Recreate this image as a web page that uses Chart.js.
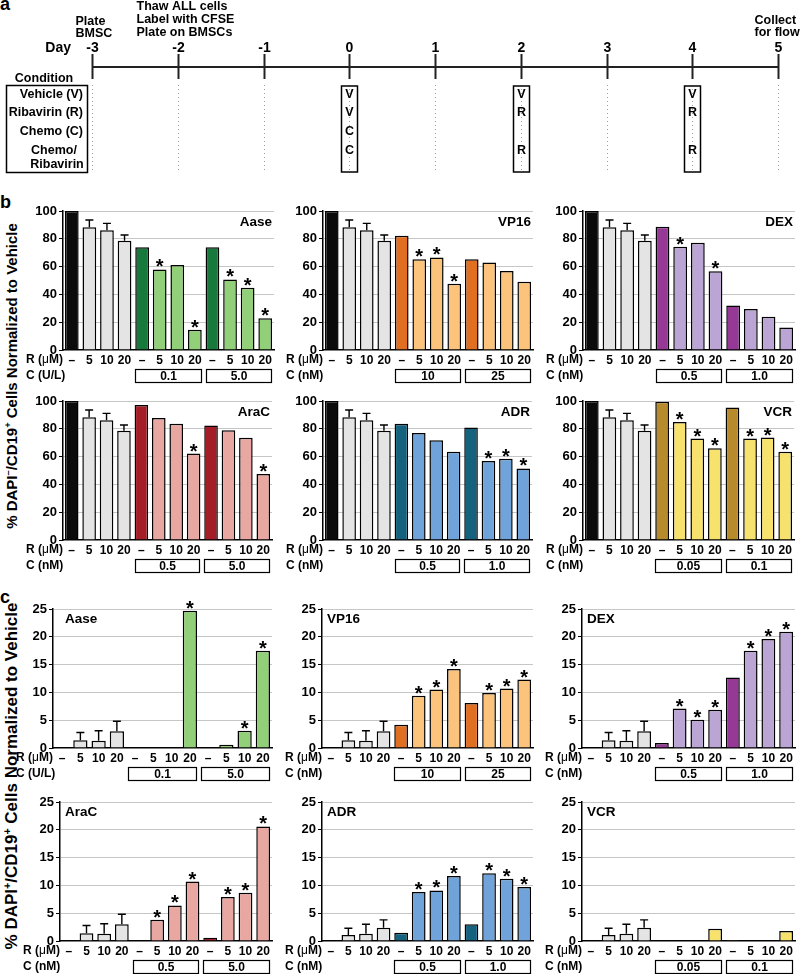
<!DOCTYPE html>
<html>
<head>
<meta charset="utf-8">
<script src="https://cdn.jsdelivr.net/npm/chart.js@4.4.0/dist/chart.umd.min.js"></script>
<style>
  body { margin: 0; width: 800px; height: 974px; position: relative; overflow: hidden; background: #fff;
         font-family: "Liberation Sans", Arial, sans-serif; font-weight: bold; color: #000; }
  canvas { position: absolute; }
  .panel { position: absolute; font-size: 18px; line-height: 18px; }
  .ytitle { position: absolute; white-space: nowrap; line-height: 1; transform: translate(-50%, -50%) rotate(-90deg); }
  .ytitle sup { font-size: 0.62em; line-height: 0; vertical-align: 0.55em; }
</style>
</head>
<body>
<div class="panel" style="left:0px;top:-5px">a</div>
<div class="panel" style="left:0px;top:193px">b</div>
<div class="panel" style="left:0px;top:588px">c</div>
<div class="ytitle" style="left:11px;top:376px;font-size:15px">% DAPI<sup>–</sup>/CD19<sup>+</sup> Cells Normalized to Vehicle</div>
<div class="ytitle" style="left:11px;top:776px;font-size:17px">% DAPI<sup>+</sup>/CD19<sup>+</sup> Cells Normalized to Vehicle</div>

<canvas id="tl"></canvas>
<canvas id="bAase"></canvas><canvas id="bVP16"></canvas><canvas id="bDEX"></canvas>
<canvas id="bAraC"></canvas><canvas id="bADR"></canvas><canvas id="bVCR"></canvas>
<canvas id="cAase"></canvas><canvas id="cVP16"></canvas><canvas id="cDEX"></canvas>
<canvas id="cAraC"></canvas><canvas id="cADR"></canvas><canvas id="cVCR"></canvas>

<script>
// ---- panel a: schedule ----
const days = [-3, -2, -1, 0, 1, 2, 3, 4, 5];
const conditionNames = ["Vehicle (V)", "Ribavirin (R)", "Chemo (C)"];
const treatDays = [0, 2, 4];
const treatDay0 = ["V", "V", "C", "C"];
const treatDay2 = ["V", "R", "", "R"];
const treatDay4 = ["V", "R", "", "R"];

// ---- bar categories (ribavirin dose under each bar) ----
const rDoses = ["–", "5", "10", "20", "–", "5", "10", "20", "–", "5", "10", "20"];

// ---- panel b: % DAPI-/CD19+ (viable) ----
const aaseLive = [100, 88.3, 86.1, 78.6, 73.9, 58.0, 61.1, 14.6, 73.9, 50.8, 44.8, 22.8];
const vp16Live = [100, 88.3, 86.1, 78.6, 82.2, 65.2, 66.6, 47.7, 65.2, 63.0, 56.8, 49.1];
const dexLive  = [100, 88.3, 86.1, 78.6, 88.7, 74.3, 77.2, 56.6, 32.1, 29.5, 24.0, 16.1];
const aracLive = [100, 88.3, 86.1, 78.6, 97.1, 87.8, 83.7, 62.2, 82.3, 79.0, 73.5, 47.4];
const adrLive  = [100, 88.3, 86.1, 78.6, 83.7, 77.0, 71.8, 63.4, 80.9, 56.9, 58.4, 51.5];
const vcrLive  = [100, 88.3, 86.1, 78.6, 99.5, 84.9, 73.0, 66.0, 95.3, 73.0, 73.7, 63.4];
const ribaErrLive = [93.5, 91.1, 82.7];   // top of error bar, R-only bars

// ---- panel c: % DAPI+/CD19+ (dead) ----
const aaseDead = [0, 1.4, 1.3, 3.0, 0, 0, 0.1, 24.7, 0, 0.6, 3.1, 17.5];
const vp16Dead = [0, 1.4, 1.3, 3.0, 4.2, 9.4, 10.5, 14.2, 8.1, 9.9, 10.7, 12.3];
const dexDead  = [0, 1.4, 1.3, 3.0, 0.9, 7.1, 5.1, 6.9, 12.7, 17.5, 19.6, 20.9];
const aracDead = [0, 1.4, 1.3, 3.0, 0, 3.8, 6.4, 10.7, 0.6, 7.9, 8.7, 20.6];
const adrDead  = [0, 1.1, 1.3, 2.4, 1.5, 8.8, 9.1, 11.7, 3.0, 12.2, 11.2, 9.7];
const vcrDead  = [0, 1.1, 1.3, 2.4, 0, 0, 0, 2.2, 0.2, 0, 0, 1.8];
const ribaErrDead  = [2.8, 3.1, 4.8];
const ribaErrDead2 = [2.3, 3.0, 3.8];

// significance marks (bar index)
const aaseLiveStars = [5, 7, 9, 10, 11];
const vp16LiveStars = [5, 6, 7];
const dexLiveStars  = [5, 7];
const aracLiveStars = [7, 11];
const adrLiveStars  = [9, 10, 11];
const vcrLiveStars  = [5, 6, 7, 9, 10, 11];
const aaseDeadStars = [7, 10, 11];
const allComboStars = [5, 6, 7, 9, 10, 11];
const vcrDeadStars  = [];

// chemo doses
const aaseDoses = ["0.1", "5.0"];
const vp16Doses = ["10", "25"];
const dexDoses  = ["0.5", "1.0"];
const aracDoses = ["0.5", "5.0"];
const adrDoses  = ["0.5", "1.0"];
const vcrDoses  = ["0.05", "0.1"];

const FONT = '"Liberation Sans", Arial, sans-serif';
Chart.defaults.font.family = FONT;
Chart.defaults.font.weight = 'bold';
Chart.defaults.color = '#000';

const drugColors = {
  Aase: ['#177a3c', '#92cf79'],
  VP16: ['#e06f22', '#fcc37c'],
  DEX:  ['#963896', '#baa5d4'],
  AraC: ['#a51d26', '#e9a7a2'],
  ADR:  ['#15627f', '#6fa3d9'],
  VCR:  ['#b78b2b', '#f8e26e']
};

function barColors(drug) {
  const [dark, light] = drugColors[drug];
  return ['#0b0b0b', '#e4e4e4', '#e4e4e4', '#e4e4e4', dark, light, light, light, dark, light, light, light];
}

// Timeline (panel a)
const timeline = {
  id: 'timeline',
  afterDraw(chart) {
    const ctx = chart.ctx, x = chart.scales.x;
    const px = d => Math.round(x.getPixelForValue(d)) + 0.5;
    const rowY = [95, 113, 132, 151];
    ctx.save();
    // dotted guides
    ctx.strokeStyle = '#a0a0a0'; ctx.lineWidth = 1; ctx.setLineDash([1, 3]);
    days.forEach(d => { ctx.beginPath(); ctx.moveTo(px(d), 85); ctx.lineTo(px(d), 172); ctx.stroke(); });
    ctx.setLineDash([]);
    // main line + ticks
    ctx.strokeStyle = '#222'; ctx.lineWidth = 2;
    ctx.beginPath(); ctx.moveTo(px(days[0]), 67); ctx.lineTo(px(days[days.length - 1]), 67); ctx.stroke();
    days.forEach(d => { ctx.beginPath(); ctx.moveTo(px(d), 54); ctx.lineTo(px(d), 79); ctx.stroke(); });
    ctx.fillStyle = '#000';
    ctx.font = 'bold 14px ' + FONT; ctx.textBaseline = 'middle';
    ctx.textAlign = 'center';
    days.forEach(d => ctx.fillText(String(d), px(d), 48));
    ctx.textAlign = 'right'; ctx.fillText('Day', 71, 48);
    // notes
    ctx.font = 'bold 12.5px ' + FONT; ctx.textAlign = 'left';
    ctx.fillText('Plate', px(-3) - 17, 22); ctx.fillText('BMSC', px(-3) - 17, 34);
    ctx.fillText('Thaw ALL cells', px(-2) - 42, 7);
    ctx.fillText('Label with CFSE', px(-2) - 42, 20);
    ctx.fillText('Plate on BMSCs', px(-2) - 42, 33);
    ctx.fillText('Collect', px(5) - 24, 21); ctx.fillText('for flow', px(5) - 24, 33);
    // condition key
    ctx.textAlign = 'center'; ctx.fillText('Condition', 44, 79);
    ctx.lineWidth = 1.5; ctx.strokeStyle = '#000';
    ctx.strokeRect(6.5, 85.5, 81, 87);
    ctx.textAlign = 'right';
    conditionNames.forEach((n, i) => ctx.fillText(n, 83, rowY[i]));
    ctx.textAlign = 'center';
    ctx.fillText('Chemo/', 54, 151); ctx.fillText('Ribavirin', 57, 165);
    // treatment boxes
    [treatDay0, treatDay2, treatDay4].forEach((col, k) => {
      const cx = px(treatDays[k]);
      ctx.strokeRect(cx - 8, 86, 16, 86);
      col.forEach((t, i) => { if (t) ctx.fillText(t, cx, rowY[i]); });
    });
    ctx.restore();
  }
};

const tlCanvas = document.getElementById('tl');
tlCanvas.width = 800; tlCanvas.height = 185;
tlCanvas.style.left = '0px'; tlCanvas.style.top = '0px';
new Chart(tlCanvas, {
  type: 'scatter',
  data: { datasets: [{ data: days.map(d => ({ x: d, y: 0 })), pointRadius: 0 }] },
  options: {
    responsive: false, animation: false,
    layout: { padding: { left: 92, right: 22, top: 0, bottom: 0 } },
    scales: { x: { type: 'linear', min: -3, max: 5, display: false }, y: { min: -1, max: 1, display: false } },
    plugins: { legend: { display: false }, tooltip: { enabled: false } }
  },
  plugins: [timeline]
});

// Extras on each bar chart: whiskers, stars, title, dose rows
const barExtras = {
  id: 'barExtras',
  afterDatasetsDraw(chart, args, o) {
    const ctx = chart.ctx, a = chart.chartArea, ys = chart.scales.y;
    const bars = chart.getDatasetMeta(0).data;
    ctx.save();
    ctx.strokeStyle = '#000'; ctx.fillStyle = '#000'; ctx.lineWidth = 1.4;
    o.err.forEach((v, i) => {
      const b = bars[i + 1], yt = ys.getPixelForValue(v);
      ctx.beginPath();
      ctx.moveTo(b.x, b.y); ctx.lineTo(b.x, yt);
      ctx.moveTo(b.x - 4, yt); ctx.lineTo(b.x + 4, yt);
      ctx.stroke();
    });
    ctx.font = 'bold 20px ' + FONT; ctx.textAlign = 'center'; ctx.textBaseline = 'alphabetic';
    o.stars.forEach(i => ctx.fillText('*', bars[i].x, bars[i].y + 4));

    ctx.font = 'bold 13.5px ' + FONT; ctx.textBaseline = 'middle';
    if (o.titleSide === 'right') { ctx.textAlign = 'right'; ctx.fillText(o.title, a.right - 2, a.top + 11); }
    else { ctx.textAlign = 'left'; ctx.fillText(o.title, a.left + o.titleDx, a.top + 10); }

    // row labels
    const lx = a.left - 37;
    ctx.textAlign = 'left';
    let cx = lx;
    const seg = (t, w) => { ctx.font = w + ' 12px ' + FONT; ctx.fillText(t, cx, a.bottom + 10); cx += ctx.measureText(t).width; };
    seg('R (', 'bold'); seg('\u03bc', 'normal'); seg('M)', 'bold');
    ctx.font = 'bold 12px ' + FONT;
    ctx.fillText('C (' + o.unit + ')', lx, a.bottom + 26);

    // dose boxes
    o.doses.forEach((d, g) => {
      const f = bars[4 + 4 * g], l = bars[7 + 4 * g];
      const x1 = Math.round(f.x - f.width / 2) + 0.5, x2 = Math.round(l.x + l.width / 2) - 0.5;
      ctx.lineWidth = 1.2;
      ctx.strokeRect(x1, Math.round(a.bottom) + 19.5, x2 - x1, 13);
      ctx.textAlign = 'center';
      ctx.fillText(d, (x1 + x2) / 2, a.bottom + 26.5);
    });
    ctx.restore();
  }
};

function drawBars(id, box, values, o) {
  const cv = document.getElementById(id);
  const padTop = 14, leftW = 42, bottomH = 36;
  cv.width = leftW + (box.right - box.axisX) + 2;
  cv.height = padTop + (box.bottom - box.top) + bottomH;
  cv.style.left = (box.axisX - leftW) + 'px';
  cv.style.top = (box.top - padTop) + 'px';
  new Chart(cv, {
    type: 'bar',
    data: {
      labels: rDoses,
      datasets: [{
        data: values,
        backgroundColor: barColors(o.drug),
        borderColor: '#000', borderWidth: 1.5,
        barPercentage: 0.78, categoryPercentage: 1
      }]
    },
    options: {
      responsive: false, animation: false,
      layout: { padding: { top: padTop, right: 2, left: 0, bottom: 0 } },
      plugins: { legend: { display: false }, tooltip: { enabled: false }, barExtras: o },
      scales: {
        x: {
          offset: true,
          grid: { display: false, drawTicks: false },
          border: { color: '#000', width: 1.5 },
          ticks: { padding: 3, autoSkip: false, maxRotation: 0, font: { size: 12, weight: 'bold' }, color: '#000' },
          afterFit: s => { s.height = bottomH; }
        },
        y: {
          min: 0, max: o.max,
          ticks: { stepSize: o.step, padding: 2, font: { size: 13, weight: 'bold' }, color: '#000' },
          grid: {
            color: c => (c.tick && c.tick.value === 0) ? 'rgba(0,0,0,0)' : '#c6c6c6',
            tickColor: '#000', tickLength: 4, lineWidth: 1
          },
          border: { color: '#000', width: 1.5 },
          afterFit: s => { s.width = leftW; }
        }
      }
    },
    plugins: [barExtras]
  });
}

const live = { max: 100, step: 20, err: ribaErrLive, titleSide: 'right' };
drawBars('bAase', { axisX: 63, right: 274, top: 211, bottom: 350 }, aaseLive, { ...live, drug: 'Aase', title: 'Aase', stars: aaseLiveStars, doses: aaseDoses, unit: 'U/L' });
drawBars('bVP16', { axisX: 323, right: 533, top: 211, bottom: 350 }, vp16Live, { ...live, drug: 'VP16', title: 'VP16', stars: vp16LiveStars, doses: vp16Doses, unit: 'nM' });
drawBars('bDEX', { axisX: 583, right: 795, top: 211, bottom: 350 }, dexLive, { ...live, drug: 'DEX', title: 'DEX', stars: dexLiveStars, doses: dexDoses, unit: 'nM' });
drawBars('bAraC', { axisX: 63, right: 272, top: 401, bottom: 540 }, aracLive, { ...live, drug: 'AraC', title: 'AraC', stars: aracLiveStars, doses: aracDoses, unit: 'nM' });
drawBars('bADR', { axisX: 323, right: 532, top: 401, bottom: 540 }, adrLive, { ...live, drug: 'ADR', title: 'ADR', stars: adrLiveStars, doses: adrDoses, unit: 'nM' });
drawBars('bVCR', { axisX: 583, right: 794, top: 401, bottom: 540 }, vcrLive, { ...live, drug: 'VCR', title: 'VCR', stars: vcrLiveStars, doses: vcrDoses, unit: 'nM' });

const dead = { max: 25, step: 5, titleSide: 'left', titleDx: 5 };
drawBars('cAase', { axisX: 53, right: 272, top: 609, bottom: 748 }, aaseDead, { ...dead, titleDx: 12, err: ribaErrDead, drug: 'Aase', title: 'Aase', stars: aaseDeadStars, doses: aaseDoses, unit: 'U/L' });
drawBars('cVP16', { axisX: 322, right: 533, top: 609, bottom: 748 }, vp16Dead, { ...dead, err: ribaErrDead, drug: 'VP16', title: 'VP16', stars: allComboStars, doses: vp16Doses, unit: 'nM' });
drawBars('cDEX', { axisX: 582, right: 795, top: 609, bottom: 748 }, dexDead, { ...dead, err: ribaErrDead, drug: 'DEX', title: 'DEX', stars: allComboStars, doses: dexDoses, unit: 'nM' });
drawBars('cAraC', { axisX: 60, right: 272, top: 802, bottom: 941 }, aracDead, { ...dead, err: ribaErrDead, drug: 'AraC', title: 'AraC', stars: allComboStars, doses: aracDoses, unit: 'nM' });
drawBars('cADR', { axisX: 322, right: 533, top: 802, bottom: 941 }, adrDead, { ...dead, err: ribaErrDead2, drug: 'ADR', title: 'ADR', stars: allComboStars, doses: adrDoses, unit: 'nM' });
drawBars('cVCR', { axisX: 582, right: 795, top: 802, bottom: 941 }, vcrDead, { ...dead, err: ribaErrDead2, drug: 'VCR', title: 'VCR', stars: vcrDeadStars, doses: vcrDoses, unit: 'nM' });
</script>
</body>
</html>
